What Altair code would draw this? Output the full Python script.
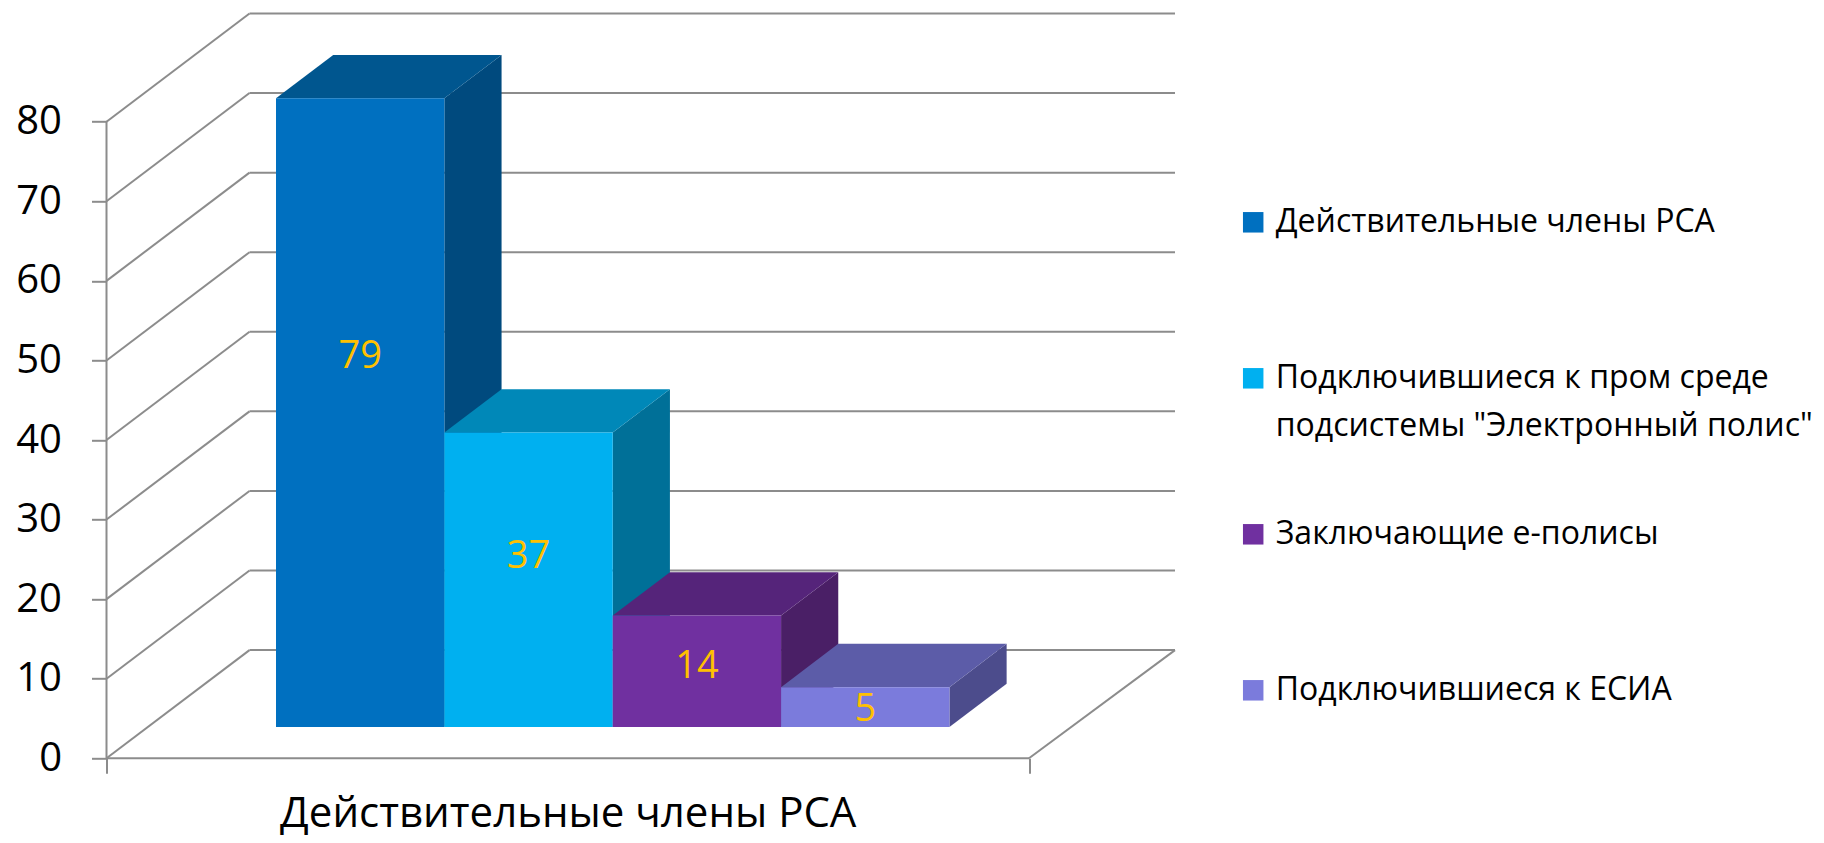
import altair as alt
import pandas as pd

# ---------------- data ----------------
category = "Действительные члены РСА"
series = [
    "Действительные члены РСА",
    'Подключившиеся к пром среде подсистемы "Электронный полис"',
    "Заключающие е-полисы",
    "Подключившиеся к ЕСИА",
]
values = [79, 37, 14, 5]
y_ticks = [0, 10, 20, 30, 40, 50, 60, 70, 80]

# ---------------- styles ----------------
front_colors = ["#0070C0", "#00B0F0", "#7030A0", "#7B7BDC"]
top_colors = ["#00568F", "#0088B8", "#55247A", "#5C5CA8"]
side_colors = ["#004A7E", "#007098", "#4A1F66", "#4C4C8C"]
label_color = "#FFC000"
grid_color = "#8C8C8C"
FONT = "Open Sans"

# oblique "3D" projection, expressed in scale units
DEPTH_X = 143      # x units of the whole floor depth
DEPTH_Y = 13.6     # y units of the whole floor depth
FLOOR_W = 922.5    # width of the category along the front floor
GROUP_FRAC = 0.73  # share of the category taken by the bars
GROUP_SHIFT = 3.5  # small sideways shift of the bar group
BAR_FRONT = 0.29   # depth fraction where the bar front faces sit
BAR_DEPTH = 0.40   # depth fraction of the bars
X_MAX = 1075
Y_MAX = 94

n = len(series)
bw = FLOOR_W * GROUP_FRAC / n
g0 = FLOOR_W / 2 - bw * n / 2 + GROUP_SHIFT
fx, fy = BAR_FRONT * DEPTH_X, BAR_FRONT * DEPTH_Y
dx, dy = BAR_DEPTH * DEPTH_X, BAR_DEPTH * DEPTH_Y

front_rows, side_rows, top_rows = [], [], []
for i, (s, v) in enumerate(zip(series, values)):
    x0 = g0 + i * bw + fx
    x1 = x0 + bw
    b = fy
    t = fy + v
    front_rows.append(dict(series=s, value=v, x0=x0, x1=x1, y0=b, y1=t,
                           xm=(x0 + x1) / 2, ylab=b + 0.6 * v - 0.88))
    side_rows += [dict(series=s, x=x1, y0=b, y1=t),
                  dict(series=s, x=x1 + dx, y0=b + dy, y1=t + dy)]
    top_rows += [dict(series=s, x=x0, y0=t, y1=t),
                 dict(series=s, x=x0 + dx, y0=t, y1=t + dy),
                 dict(series=s, x=x1, y0=t, y1=t + dy),
                 dict(series=s, x=x1 + dx, y0=t + dy, y1=t + dy)]

rule_rows = []
for v in y_ticks:
    rule_rows.append(dict(x=DEPTH_X, x2=DEPTH_X + FLOOR_W + 3, y=v + DEPTH_Y, y2=v + DEPTH_Y))
    rule_rows.append(dict(x=0, x2=DEPTH_X, y=v, y2=v + DEPTH_Y))
rule_rows.append(dict(x=0, x2=FLOOR_W, y=0, y2=0))
rule_rows.append(dict(x=FLOOR_W, x2=FLOOR_W + DEPTH_X + 3, y=0, y2=DEPTH_Y))
rule_rows.append(dict(x=0, x2=0, y=0, y2=y_ticks[-1]))

front_df = pd.DataFrame(front_rows)
side_df = pd.DataFrame(side_rows)
top_df = pd.DataFrame(top_rows)
rule_df = pd.DataFrame(rule_rows)

xs = alt.Scale(domain=[0, X_MAX], nice=False, zero=False)
ys = alt.Scale(domain=[0, Y_MAX], nice=False, zero=False)

x_axis = alt.Axis(values=[0, FLOOR_W], tickSize=15, tickColor=grid_color, tickWidth=2,
                  labels=False, domain=False, grid=False,
                  title=category, titleFont=FONT, titleFontSize=42, titleFontWeight="normal",
                  titleColor="black", titleX=FLOOR_W / 2, titleY=68, titleAlign="center",
                  titleBaseline="alphabetic")
y_axis = alt.Axis(values=y_ticks, tickSize=15, tickColor=grid_color, tickWidth=2,
                  domain=False, grid=False, labelFont=FONT, labelFontSize=40,
                  labelColor="black", labelPadding=30, title=None)


def X(field):
    return alt.X(field, scale=xs, axis=x_axis, title=category)


def Y(field):
    return alt.Y(field, scale=ys, axis=y_axis, stack=None, title=None)


rules = alt.Chart(rule_df).mark_rule(color=grid_color, strokeWidth=2).encode(
    x=X("x:Q"), x2="x2:Q", y=Y("y:Q"), y2="y2:Q",
)

sides = alt.Chart(side_df).mark_area(interpolate="linear").encode(
    x=X("x:Q"), y=Y("y0:Q"), y2="y1:Q",
    color=alt.Color("series:N", scale=alt.Scale(domain=series, range=side_colors), legend=None),
)

tops = alt.Chart(top_df).mark_area(interpolate="linear").encode(
    x=X("x:Q"), y=Y("y0:Q"), y2="y1:Q",
    color=alt.Color("series:N", scale=alt.Scale(domain=series, range=top_colors), legend=None),
)

# every legend label is given two lines, so that all entries take the same
# height and the first line always sits level with its square
label_expr = ("indexof(datum.label, ' подсистемы') > 0 ? "
              "[substring(datum.label, 0, indexof(datum.label, ' подсистемы')), "
              "substring(datum.label, indexof(datum.label, ' подсистемы') + 1)] : "
              "[datum.label, '']")

fronts = alt.Chart(front_df).mark_rect().encode(
    x=X("x0:Q"), x2="x1:Q", y=Y("y0:Q"), y2="y1:Q",
    color=alt.Color(
        "series:N",
        scale=alt.Scale(domain=series, range=front_colors),
        legend=alt.Legend(
            title=None, orient="none", legendX=1130.7, legendY=196,
            symbolType="square", symbolSize=420, symbolStrokeWidth=0,
            labelFont=FONT, labelFontSize=32, labelColor="black",
            labelOffset=6.5, labelLimit=0, rowPadding=76, padding=0,
            labelExpr=label_expr,
        ),
    ),
)

labels = alt.Chart(front_df).mark_text(
    font=FONT, fontSize=38, color=label_color, align="center", baseline="middle"
).encode(
    x=X("xm:Q"), y=Y("ylab:Q"), text="value:Q",
)

chart = alt.layer(rules, sides, tops, fronts, labels).resolve_scale(
    color="independent"
).properties(
    width=X_MAX, height=748,
    padding={"left": 98.5, "top": 2.3, "right": 634.5, "bottom": 76.7},
    autosize=alt.AutoSizeParams(type="none"),
    background="white",
).configure(style={"guide-label": {"lineHeight": 48}}).configure_view(stroke=None)

chart.save("out.html", embed_options={"renderer": "svg", "actions": False})
